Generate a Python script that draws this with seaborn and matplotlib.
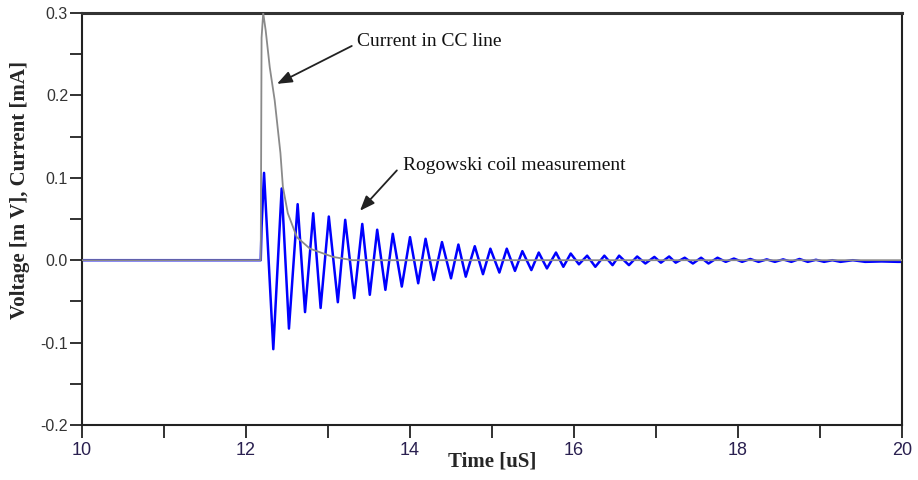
import matplotlib
matplotlib.use("Agg")
import matplotlib.pyplot as plt
import seaborn as sns
import pandas as pd

# Current in CC line
cc_time = [10.0, 12.18, 12.19, 12.21, 12.24, 12.29, 12.35, 12.42, 12.45, 12.51,
           12.62, 12.78, 13.06, 13.3, 20.0]
cc_value = [0.0, 0.0, 0.27, 0.30, 0.279, 0.234, 0.194, 0.130, 0.089, 0.057,
            0.028, 0.014, 0.004, 0.0, 0.0]

# Rogowski coil measurement: peaks and troughs of the ringing
rog_time = [10.0, 12.18, 12.19, 12.22, 12.333, 12.435, 12.524, 12.63, 12.72, 12.82,
            12.91, 13.01, 13.12, 13.21, 13.32, 13.418, 13.51, 13.60, 13.70, 13.79,
            13.90, 14.00, 14.10, 14.19, 14.29, 14.39, 14.50, 14.59, 14.68, 14.79,
            14.89, 14.98, 15.09, 15.18, 15.28, 15.37, 15.48, 15.57, 15.67, 15.78,
            15.87, 15.96, 16.06, 16.16, 16.26, 16.37, 16.47, 16.55, 16.67, 16.77,
            16.87, 16.98, 17.06, 17.16, 17.24, 17.35, 17.45, 17.55, 17.64, 17.75,
            17.85, 17.95, 18.05, 18.15, 18.25, 18.35, 18.45, 18.55, 18.65, 18.75,
            18.85, 18.95, 19.05, 19.15, 19.25, 19.40, 19.55, 19.75, 19.95, 20.0]
rog_value = [0.0, 0.0, 0.04, 0.106, -0.108, 0.087, -0.083, 0.068, -0.063, 0.057,
             -0.058, 0.053, -0.051, 0.049, -0.046, 0.044, -0.042, 0.037, -0.036, 0.032,
             -0.032, 0.028, -0.028, 0.026, -0.024, 0.022, -0.022, 0.019, -0.020, 0.017,
             -0.017, 0.014, -0.015, 0.014, -0.013, 0.011, -0.012, 0.0093, -0.010, 0.0093,
             -0.008, 0.0081, -0.005, 0.0055, -0.008, 0.0055, -0.006, 0.0055, -0.006, 0.0045,
             -0.004, 0.004, -0.003, 0.0045, -0.003, 0.003, -0.004, 0.003, -0.004, 0.003,
             -0.002, 0.002, -0.002, 0.0015, -0.002, 0.001, -0.002, 0.001, -0.002, 0.0015,
             -0.002, 0.0005, -0.002, 0.0, -0.002, 0.0, -0.002, -0.0015, -0.002, -0.002]

cc = pd.DataFrame({"t": cc_time, "v": cc_value})
rog = pd.DataFrame({"t": rog_time, "v": rog_value})

sns.set_style("ticks")
plt.rcParams["font.family"] = ["Liberation Serif", "DejaVu Serif"]

fig = plt.figure(figsize=(9.18, 4.80), dpi=100)
ax = fig.add_axes([0.0893, 0.1146, 0.8933, 0.8583])

sns.lineplot(data=rog, x="t", y="v", ax=ax, color="#0000ff", lw=1.8,
             estimator=None, zorder=2)
sns.lineplot(data=cc, x="t", y="v", ax=ax, color="#8a8a8a", lw=1.3,
             estimator=None, zorder=3)

ax.set_xlim(10, 20)
ax.set_ylim(-0.2, 0.3)
ax.set_xticks([10, 12, 14, 16, 18, 20])
ax.set_xticks([11, 13, 15, 17, 19], minor=True)
ax.set_yticks([-0.2, -0.1, 0.0, 0.1, 0.2, 0.3])
ax.set_yticks([-0.15, -0.05, 0.05, 0.15, 0.25], minor=True)
ax.set_yticklabels(["-0.2", "-0.1", "0.0", "0.1", "0.2", "0.3"])

ax.tick_params(axis="both", which="both", direction="out", length=9,
               width=1.3, color="#222222")
for lab in ax.get_xticklabels():
    lab.set_family(["Liberation Sans Narrow", "Liberation Sans"])
    lab.set_fontsize(13)
    lab.set_color("#2a2050")
for lab in ax.get_yticklabels():
    lab.set_family(["Liberation Sans", "DejaVu Sans"])
    lab.set_fontsize(11.5)
    lab.set_color("#333333")
ax.tick_params(axis="x", pad=3)
ax.tick_params(axis="y", pad=1)

for side in ["left", "bottom", "right"]:
    ax.spines[side].set_linewidth(1.5)
    ax.spines[side].set_color("#222222")
ax.spines["top"].set_linewidth(2.2)
ax.spines["top"].set_color("#333333")

ax.set_xlabel("Time [uS]", fontsize=15, fontweight="bold", labelpad=-5)
ax.set_ylabel("Voltage [m V], Current [mA]", fontsize=15, fontweight="bold")
ax.yaxis.set_label_coords(-0.063, 0.57)

arrow = dict(arrowstyle="-|>,head_length=0.9,head_width=0.35", color="#222222",
             lw=1.3, shrinkA=0, shrinkB=0)
ax.annotate("", xy=(12.378, 0.214), xytext=(13.29, 0.260), arrowprops=arrow)
ax.text(13.35, 0.266, "Current in CC line", fontsize=14, va="center", color="#111111")
ax.annotate("", xy=(13.39, 0.060), xytext=(13.84, 0.109), arrowprops=arrow)
ax.text(13.915, 0.115, "Rogowski coil measurement", fontsize=14, va="center",
        color="#111111")

fig.savefig("out.png", dpi=100)
